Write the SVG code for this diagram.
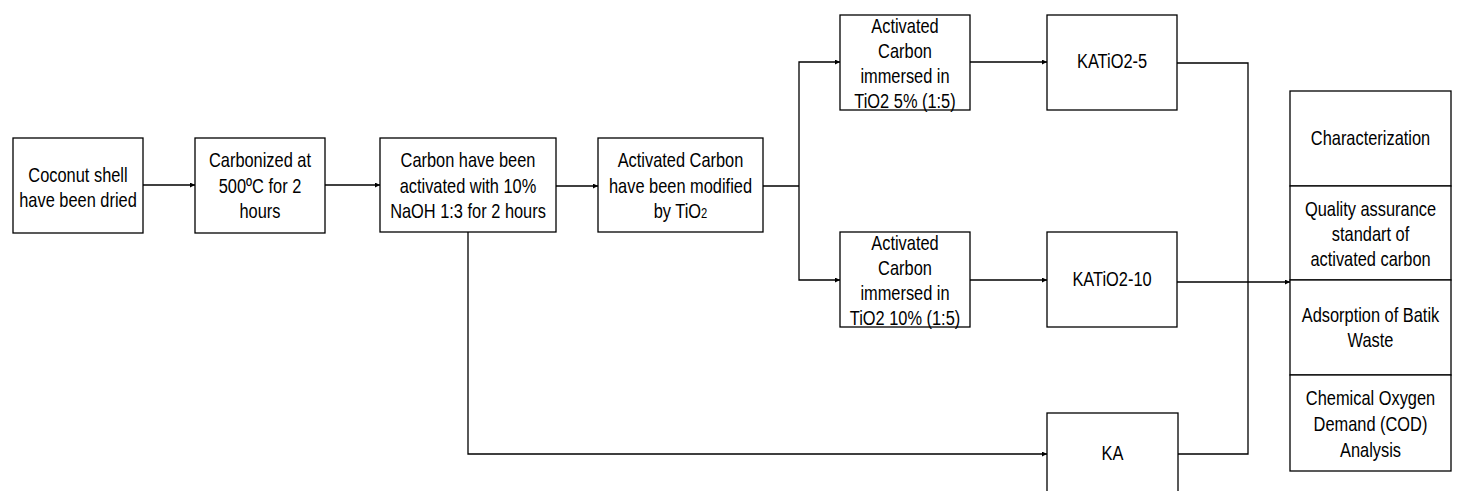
<svg xmlns="http://www.w3.org/2000/svg" width="1457" height="491" viewBox="0 0 1457 491">
<style>
.box{fill:#fff;stroke:#000;stroke-width:1.3}
.c{fill:none;stroke:#000;stroke-width:1.3}
text{font-family:"Liberation Sans",Arial,sans-serif;font-size:20.5px;fill:#000;text-anchor:middle}
</style>
<defs>
<marker id="ah" markerUnits="userSpaceOnUse" markerWidth="6" markerHeight="6" refX="5" refY="2.5" orient="auto">
<path d="M0,0 L5,2.5 L0,5 z" fill="#000"/>
</marker>
</defs>
<rect width="1457" height="491" fill="#fff"/>
<g id="connectors">
<path class="c" d="M143,185 H195" marker-end="url(#ah)"/>
<path class="c" d="M325,185 H380" marker-end="url(#ah)"/>
<path class="c" d="M556,186 H598" marker-end="url(#ah)"/>
<path class="c" d="M763,186 H799"/>
<path class="c" d="M799,186 V62 H840" marker-end="url(#ah)"/>
<path class="c" d="M799,186 V280 H840" marker-end="url(#ah)"/>
<path class="c" d="M970,62 H1047" marker-end="url(#ah)"/>
<path class="c" d="M970,280 H1047" marker-end="url(#ah)"/>
<path class="c" d="M468,232 V454 H1047" marker-end="url(#ah)"/>
<path class="c" d="M1177,63 H1248 V454 H1178"/>
<path class="c" d="M1177,282 H1290" marker-end="url(#ah)"/>
</g>
<g id="n1">
<rect class="box" x="13" y="138" width="130" height="95"/>
<text transform="translate(78 0) scale(0.8 1)"><tspan x="0" y="182">Coconut shell</tspan><tspan x="0" y="207">have been dried</tspan></text>
</g>
<g id="n2">
<rect class="box" x="195" y="138" width="130" height="95"/>
<text transform="translate(260 0) scale(0.8 1)"><tspan x="0" y="167.5">Carbonized at</tspan><tspan x="0" y="193">500ºC for 2</tspan><tspan x="0" y="218.5">hours</tspan></text>
</g>
<g id="n3">
<rect class="box" x="380" y="138" width="176" height="94"/>
<text transform="translate(468 0) scale(0.8 1)"><tspan x="0" y="167.5">Carbon have been</tspan><tspan x="0" y="193">activated with 10%</tspan><tspan x="0" y="218.5">NaOH 1:3 for 2 hours</tspan></text>
</g>
<g id="n4">
<rect class="box" x="598" y="138" width="165" height="94"/>
<text transform="translate(680.5 0) scale(0.8 1)"><tspan x="0" y="167.5">Activated Carbon</tspan><tspan x="0" y="193">have been modified</tspan><tspan x="0" y="218.5">by TiO<tspan font-size="14">2</tspan></tspan></text>
</g>
<g id="n5">
<rect class="box" x="840" y="15" width="130" height="95"/>
<text transform="translate(905 0) scale(0.8 1)"><tspan x="0" y="33.5">Activated</tspan><tspan x="0" y="58.5">Carbon</tspan><tspan x="0" y="83.5">immersed in</tspan><tspan x="0" y="108.5">TiO2 5% (1:5)</tspan></text>
</g>
<g id="n6">
<rect class="box" x="840" y="232" width="130" height="95"/>
<text transform="translate(905 0) scale(0.8 1)"><tspan x="0" y="250.5">Activated</tspan><tspan x="0" y="275.5">Carbon</tspan><tspan x="0" y="300.5">immersed in</tspan><tspan x="0" y="325.5">TiO2 10% (1:5)</tspan></text>
</g>
<g id="n7">
<rect class="box" x="1047" y="15" width="130" height="95"/>
<text transform="translate(1112 0) scale(0.8 1)"><tspan x="0" y="68">KATiO2-5</tspan></text>
</g>
<g id="n8">
<rect class="box" x="1047" y="232" width="130" height="95"/>
<text transform="translate(1112 0) scale(0.8 1)"><tspan x="0" y="286">KATiO2-10</tspan></text>
</g>
<g id="n9">
<rect class="box" x="1047" y="413" width="131" height="100"/>
<text transform="translate(1112.5 0) scale(0.8 1)"><tspan x="0" y="460">KA</tspan></text>
</g>
<g id="n10">
<rect class="box" x="1290" y="91" width="161" height="95"/>
<text transform="translate(1370.5 0) scale(0.8 1)"><tspan x="0" y="145">Characterization</tspan></text>
</g>
<g id="n11">
<rect class="box" x="1290" y="186" width="161" height="94"/>
<text transform="translate(1370.5 0) scale(0.8 1)"><tspan x="0" y="216">Quality assurance</tspan><tspan x="0" y="241">standart of</tspan><tspan x="0" y="266">activated carbon</tspan></text>
</g>
<g id="n12">
<rect class="box" x="1290" y="280" width="161" height="95"/>
<text transform="translate(1370.5 0) scale(0.8 1)"><tspan x="0" y="322">Adsorption of Batik</tspan><tspan x="0" y="347">Waste</tspan></text>
</g>
<g id="n13">
<rect class="box" x="1290" y="375" width="161" height="96"/>
<text transform="translate(1370.5 0) scale(0.8 1)"><tspan x="0" y="405">Chemical Oxygen</tspan><tspan x="0" y="431">Demand (COD)</tspan><tspan x="0" y="457">Analysis</tspan></text>
</g>
</svg>
